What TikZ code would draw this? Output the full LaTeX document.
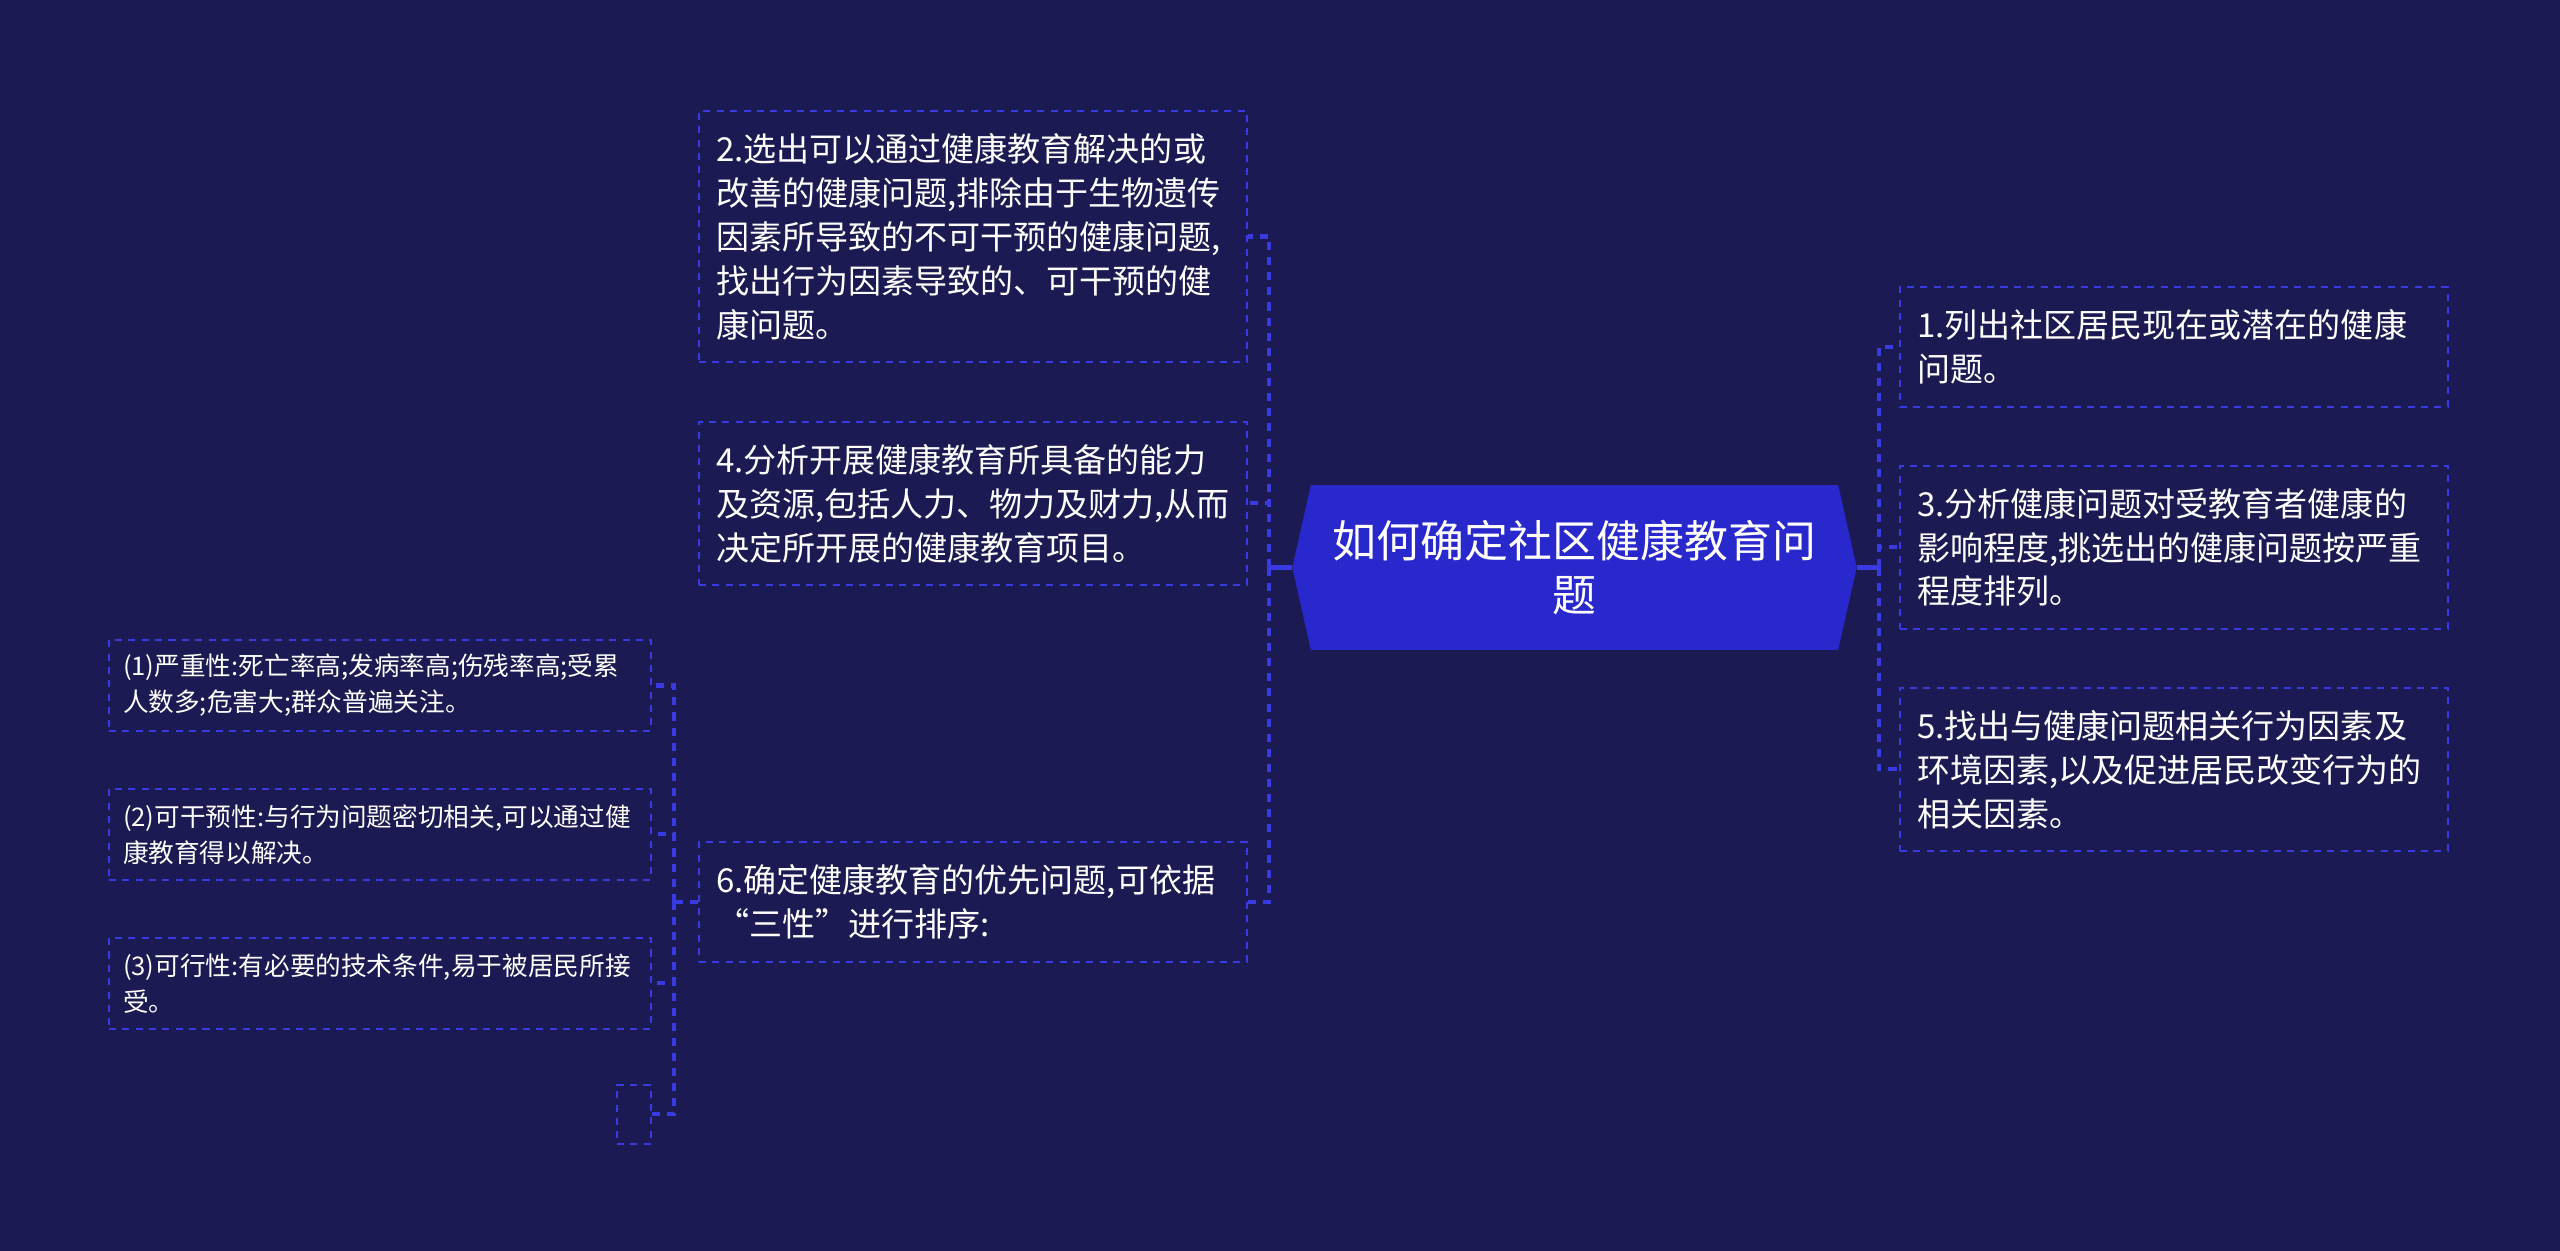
\documentclass[tikz,border=0pt]{standalone}
\usepackage{fontspec}
\setmainfont{Noto Sans CJK SC}
\usepackage{tikz}
\usetikzlibrary{positioning,chains}
\definecolor{bgnavy}{RGB}{27,26,82}
\definecolor{lineblue}{RGB}{58,58,226}
\definecolor{topicblue}{RGB}{40,40,205}

\begin{document}
\begin{tikzpicture}[
  leafnode/.style={draw=lineblue,dash pattern=on 2pt off 1.8pt,line width=0.55pt,
    text=white,align=left,text width=5.14cm,inner xsep=1.7mm,inner ysep=0pt,
    font=\fontsize{9.4pt}{12.5pt}\selectfont},
  subnode/.style={leafnode,inner xsep=1.4mm,minimum height=9.1mm,
    font=\fontsize{7.3pt}{10.2pt}\selectfont},
  emptynode/.style={draw=lineblue,dash pattern=on 2pt off 1.8pt,line width=0.55pt,
    minimum width=3.4mm,minimum height=5.9mm,inner sep=0pt},
  topicnode/.style={fill=topicblue,text=white,align=center,minimum width=5.27cm,
    minimum height=1.65cm,inner sep=0pt,font=\fontsize{12.5pt}{15.4pt}\selectfont},
  branch/.style={draw=lineblue,line width=1.15pt,dash pattern=on 2.3pt off 2pt},
  stemline/.style={draw=lineblue,line width=1.15pt}
]
% the page
\fill[bgnavy] (0,0) rectangle (25.6,-12.51);

% the central topic
\node[topicnode] (t) at (15.745,-5.675) {如何确定社区健康教育问\\题};
\coordinate (tl) at ([xshift=-1.8mm]t.west);
\coordinate (tr) at ([xshift=1.8mm]t.east);
\fill[topicblue] ([xshift=0.2pt]t.north west) -- (tl) -- ([xshift=0.2pt]t.south west) -- cycle;
\fill[topicblue] ([xshift=-0.2pt]t.north east) -- (tr) -- ([xshift=-0.2pt]t.south east) -- cycle;

% the right column
\begin{scope}[xshift=21.74cm,yshift=-3.47cm,start chain=going below,node distance=5.7mm]
  \node[leafnode,on chain,minimum height=12mm] (p1) {1.列出社区居民现在或潜在的健康\\问题。};
  \node[leafnode,on chain,minimum height=16.3mm] (p3) {3.分析健康问题对受教育者健康的\\影响程度,挑选出的健康问题按严重\\程度排列。};
  \node[leafnode,on chain,minimum height=16.3mm] (p5) {5.找出与健康问题相关行为因素及\\环境因素,以及促进居民改变行为的\\相关因素。};
\end{scope}

% the left column
\begin{scope}[xshift=9.73cm,yshift=-2.365cm,start chain=going below,node distance=5.8mm]
  \node[leafnode,on chain,minimum height=25.1mm] (p2) {2.选出可以通过健康教育解决的或\\改善的健康问题,排除由于生物遗传\\因素所导致的不可干预的健康问题,\\找出行为因素导致的、可干预的健\\康问题。};
  \node[leafnode,on chain,minimum height=16.3mm] (p4) {4.分析开展健康教育所具备的能力\\及资源,包括人力、物力及财力,从而\\决定所开展的健康教育项目。};
\end{scope}
\node[leafnode,minimum height=12mm,below=25.5mm of p4] (p6) {6.确定健康教育的优先问题,可依据\\“三性”进行排序:};

% the three criteria
\begin{scope}[xshift=3.8cm,yshift=-6.855cm,start chain=going below,node distance=5.6mm]
  \node[subnode,on chain] (q1) {(1)严重性:死亡率高;发病率高;伤残率高;受累\\人数多;危害大;群众普遍关注。};
  \node[subnode,on chain] (q2) {(2)可干预性:与行为问题密切相关,可以通过健\\康教育得以解决。};
  \node[subnode,on chain] (q3) {(3)可行性:有必要的技术条件,易于被居民所接\\受。};
\end{scope}
\node[emptynode,below=5.4mm of q3.south east,anchor=north east] (q4) {};

% the edges
\coordinate (lj) at ([xshift=-2.3mm]tl);
\coordinate (rj) at ([xshift=2.2mm]tr);
\coordinate (sj) at ([xshift=-2.4mm]p6.west);
\draw[stemline] (tl) -- (lj);
\draw[branch] (lj) |- (p2.east);
\draw[branch] (lj) |- (p4.east);
\draw[branch] (lj) |- (p6.east);
\draw[stemline] (tr) -- (rj);
\draw[branch] (rj) |- (p1.west);
\draw[branch] (rj) |- (p3.west);
\draw[branch] (rj) |- (p5.west);
\draw[branch] (p6.west) -- (sj);
\draw[branch] (sj) |- (q1.east);
\draw[branch] (sj) |- (q2.east);
\draw[branch] (sj) |- (q3.east);
\draw[branch] (sj) |- (q4.east);
\end{tikzpicture}
\end{document}
